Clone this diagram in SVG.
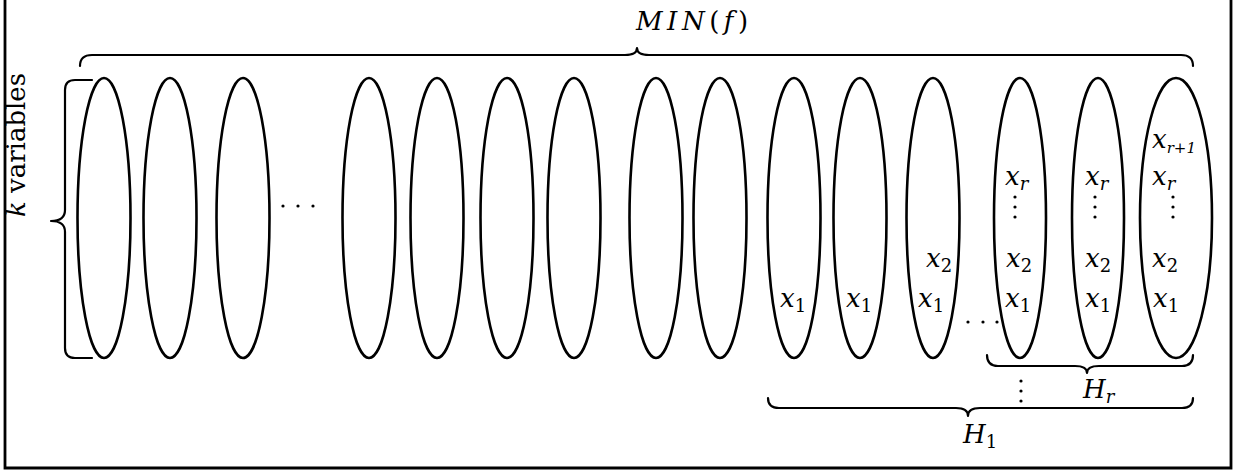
<svg xmlns="http://www.w3.org/2000/svg" width="1236" height="474" viewBox="0 0 1236 474">
<style>
.ell{fill:none;stroke:#000;stroke-width:2.6}
.br{fill:none;stroke:#000;stroke-width:2.2;stroke-linecap:round;stroke-linejoin:round}
.frame{fill:none;stroke:#000;stroke-width:2.8}
.m{font-family:'DejaVu Serif','Liberation Serif',serif;font-size:26px;font-style:italic;fill:#000}
.up{font-style:normal}
.sub{font-size:18px;font-style:normal}
.subi{font-size:18px;font-style:italic}
.tiny{font-size:15px;font-style:italic}
.dot{fill:#000}
</style>
<rect width="1236" height="474" fill="#fff"/>
<path class="frame" d="M5,-3 V468 H1231 V-3"/>

<g id="ellipses">
<g id="n1"><ellipse class="ell" cx="104" cy="218" rx="26.5" ry="140"/></g>
<g id="n2"><ellipse class="ell" cx="170" cy="218" rx="26.5" ry="140"/></g>
<g id="n3"><ellipse class="ell" cx="243" cy="218" rx="26.5" ry="140"/></g>
<g id="n4"><ellipse class="ell" cx="369" cy="218" rx="26.5" ry="140"/></g>
<g id="n5"><ellipse class="ell" cx="437" cy="218" rx="26.5" ry="140"/></g>
<g id="n6"><ellipse class="ell" cx="507" cy="218" rx="26.5" ry="140"/></g>
<g id="n7"><ellipse class="ell" cx="574" cy="218" rx="26.5" ry="140"/></g>
<g id="n8"><ellipse class="ell" cx="656" cy="218" rx="26.5" ry="140"/></g>
<g id="n9"><ellipse class="ell" cx="720" cy="218" rx="26.5" ry="140"/></g>
<g id="n10"><ellipse class="ell" cx="794" cy="218" rx="26.5" ry="140"/>
<text class="m" x="780" y="307">x<tspan class="sub" dy="5">1</tspan></text></g>
<g id="n11"><ellipse class="ell" cx="860" cy="218" rx="26.5" ry="140"/>
<text class="m" x="846" y="307">x<tspan class="sub" dy="5">1</tspan></text></g>
<g id="n12"><ellipse class="ell" cx="933" cy="218" rx="26.5" ry="140"/>
<text class="m" x="918" y="307">x<tspan class="sub" dy="5">1</tspan></text>
<text class="m" x="926" y="267">x<tspan class="sub" dy="5">2</tspan></text></g>
<g id="n13"><ellipse class="ell" cx="1020" cy="218" rx="26" ry="140"/>
<text class="m" x="1005" y="307">x<tspan class="sub" dy="5">1</tspan></text>
<text class="m" x="1006" y="267">x<tspan class="sub" dy="5">2</tspan></text>
<text class="m" x="1005" y="185">x<tspan class="subi" dy="5">r</tspan></text>
<circle class="dot" cx="1015" cy="197" r="1.6"/><circle class="dot" cx="1015" cy="207" r="1.6"/><circle class="dot" cx="1015" cy="217" r="1.6"/></g>
<g id="n14"><ellipse class="ell" cx="1098" cy="218" rx="26" ry="140"/>
<text class="m" x="1085" y="307">x<tspan class="sub" dy="5">1</tspan></text>
<text class="m" x="1085" y="267">x<tspan class="sub" dy="5">2</tspan></text>
<text class="m" x="1085" y="185">x<tspan class="subi" dy="5">r</tspan></text>
<circle class="dot" cx="1095" cy="197" r="1.6"/><circle class="dot" cx="1095" cy="207" r="1.6"/><circle class="dot" cx="1095" cy="217" r="1.6"/></g>
<g id="n15"><ellipse class="ell" cx="1176" cy="218" rx="36" ry="140"/>
<text class="m" x="1153" y="307">x<tspan class="sub" dy="5">1</tspan></text>
<text class="m" x="1152" y="267">x<tspan class="sub" dy="5">2</tspan></text>
<text class="m" x="1152" y="185">x<tspan class="subi" dy="5">r</tspan></text>
<circle class="dot" cx="1173" cy="197" r="1.6"/><circle class="dot" cx="1173" cy="207" r="1.6"/><circle class="dot" cx="1173" cy="217" r="1.6"/>
<text class="m" x="1152" y="148">x<tspan class="tiny" dy="5">r+1</tspan></text></g>
</g>

<g id="dots">
<circle class="dot" cx="283" cy="206" r="1.6"/><circle class="dot" cx="298" cy="206" r="1.6"/><circle class="dot" cx="313" cy="206" r="1.6"/>
<circle class="dot" cx="968" cy="322" r="1.6"/><circle class="dot" cx="983" cy="322" r="1.6"/><circle class="dot" cx="997" cy="322" r="1.6"/>
<circle class="dot" cx="1021" cy="381" r="1.6"/><circle class="dot" cx="1021" cy="391" r="1.6"/><circle class="dot" cx="1021" cy="401" r="1.6"/>
</g>

<g id="braces">
<path class="br" d="M80,66 Q80,55 92,55 L625,55 Q637,55 637,48 Q637,55 649,55 L1181,55 Q1193,55 1193,66"/>
<path class="br" d="M92,80 H75 Q65,80 65,90 V210 Q65,221 51,221 Q65,221 65,232 V348 Q65,358 75,358 H92"/>
<path class="br" d="M987,355 Q987,366 998,366 L1075,366 Q1087,366 1087,373 Q1087,366 1099,366 L1182,366 Q1193,366 1193,355"/>
<path class="br" d="M768,398 Q768,408 779,408 L956,408 Q968,408 968,416 Q968,408 980,408 L1182,408 Q1193,408 1193,398"/>
</g>

<g id="labels">
<text class="m" x="636" y="30" letter-spacing="4.5">MIN<tspan class="up">(</tspan>f<tspan class="up">)</tspan></text>
<text class="m" x="1083" y="398">H<tspan class="subi" dy="5">r</tspan></text>
<text class="m" x="963" y="443">H<tspan class="sub" dy="5">1</tspan></text>
<text class="m" transform="translate(25,145) rotate(-90)" text-anchor="middle">k<tspan class="up"> variables</tspan></text>
</g>
</svg>
